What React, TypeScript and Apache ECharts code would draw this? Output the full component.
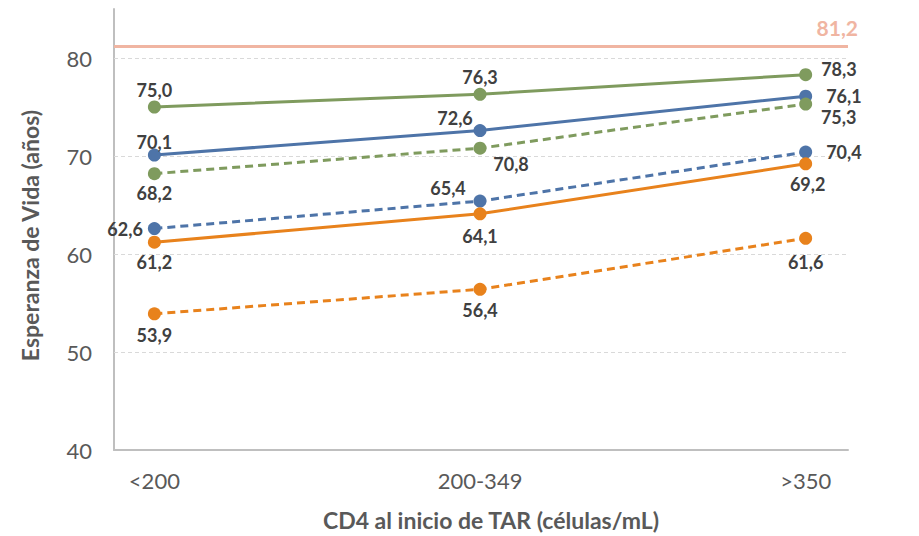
import React, { useEffect, useRef } from "react";
import * as echarts from "echarts";

const categories = ["<200", "200-349", ">350"];
const greenSolid = [75.0, 76.3, 78.3];
const blueSolid = [70.1, 72.6, 76.1];
const greenDashed = [68.2, 70.8, 75.3];
const blueDashed = [62.6, 65.4, 70.4];
const orangeSolid = [61.2, 64.1, 69.2];
const orangeDashed = [53.9, 56.4, 61.6];
const referenceValue = 81.2;
const gridValues = [50, 60, 70, 80];
const yTicks = [40, 50, 60, 70, 80];

const GREEN = "#7f9b5e";
const BLUE = "#4e74a8";
const ORANGE = "#e8821c";
const SALMON = "#f0b5a2";
const FONT = "Lato, 'Noto Sans', sans-serif";

const fmt = (v: number) => v.toFixed(1).replace(".", ",");

type Lab = { position: string; offset?: [number, number] };

function makeSeries(name: string, values: number[], color: string, dashed: boolean, labels: Lab[]) {
  return {
    name,
    type: "line",
    symbol: "circle",
    symbolSize: 13,
    z: 5,
    lineStyle: { color, width: 3, type: dashed ? [8, 5] : "solid" },
    itemStyle: { color },
    data: values.map((v, i) => ({
      value: [i, v],
      label: {
        show: true,
        position: labels[i].position,
        offset: labels[i].offset || [0, 0],
        distance: 2,
        formatter: () => fmt(v),
        fontFamily: FONT,
        fontWeight: "bold",
        fontSize: 18,
        color: "#404040",
      },
    })),
  };
}

export default function App() {
  const ref = useRef<HTMLDivElement>(null);
  useEffect(() => {
    if (!ref.current) return;
    const chart = echarts.init(ref.current, undefined, { renderer: "svg" });
    chart.setOption({
      animation: false,
      backgroundColor: "#ffffff",
      grid: { left: 114, right: 71, top: 9, bottom: 86, containLabel: false },
      xAxis: {
        type: "value",
        min: -0.124,
        max: 2.13,
        name: "CD4 al inicio de TAR (células/mL)",
        nameLocation: "middle",
        nameGap: 58,
        nameTextStyle: { fontFamily: FONT, fontWeight: "bold", fontSize: 23, color: "#595959", padding: [0, 0, 0, 20] },
        axisLine: { show: true, onZero: false, lineStyle: { color: "#bfbfbf", width: 2 } },
        axisTick: { show: false },
        splitLine: { show: false },
        axisLabel: {
          showMinLabel: false,
          showMaxLabel: false,
          margin: 19,
          fontFamily: FONT,
          fontSize: 22,
          color: "#595959",
          formatter: (v: number) => {
            const r = Math.round(v);
            return Math.abs(v - r) < 1e-6 && categories[r] !== undefined ? categories[r] : "";
          },
        },
      },
      yAxis: {
        type: "value",
        min: 40,
        max: 85,
        interval: 10,
        name: "Esperanza de Vida (años)",
        nameLocation: "middle",
        nameGap: 73,
        nameTextStyle: { fontFamily: FONT, fontWeight: "bold", fontSize: 23, color: "#595959", padding: [0, 12, 0, 0] },
        axisLine: { show: true, onZero: false, lineStyle: { color: "#bfbfbf", width: 2 } },
        axisTick: { show: false },
        splitLine: { show: false },
        axisLabel: {
          margin: 22,
          fontFamily: FONT,
          fontSize: 22,
          color: "#595959",
          formatter: (v: number) => (yTicks.indexOf(v) >= 0 ? String(v) : ""),
        },
      },
      series: [
        {
          name: "ref",
          type: "line",
          data: [],
          markLine: {
            silent: true,
            symbol: "none",
            data: [
              ...gridValues.map((g) => ({
                yAxis: g,
                lineStyle: { color: "#d9d9d9", width: 1, type: [4, 3] },
                label: { show: false },
              })),
              {
                yAxis: referenceValue,
                lineStyle: { color: SALMON, width: 3, type: "solid" },
                label: {
                  show: true,
                  position: "insideEndTop",
                  formatter: fmt(referenceValue),
                  fontFamily: FONT,
                  fontWeight: "bold",
                  fontSize: 21,
                  color: SALMON,
                  distance: [-10, 8],
                },
              },
            ],
          },
        },
        makeSeries("Verde", greenSolid, GREEN, false, [
          { position: "top" },
          { position: "top" },
          { position: "right", offset: [7, -6] },
        ]),
        makeSeries("Azul", blueSolid, BLUE, false, [
          { position: "top", offset: [0, 4] },
          { position: "top", offset: [-25, 5] },
          { position: "right", offset: [12, 0] },
        ]),
        makeSeries("Verde discontinua", greenDashed, GREEN, true, [
          { position: "bottom", offset: [0, 2] },
          { position: "bottom", offset: [31, -2] },
          { position: "bottom", offset: [33, -5] },
        ]),
        makeSeries("Azul discontinua", blueDashed, BLUE, true, [
          { position: "left", offset: [-3, 0] },
          { position: "top", offset: [-32, 4] },
          { position: "right", offset: [12, 0] },
        ]),
        makeSeries("Naranja", orangeSolid, ORANGE, false, [
          { position: "bottom", offset: [0, 2] },
          { position: "bottom", offset: [0, 5] },
          { position: "bottom", offset: [2, 3] },
        ]),
        makeSeries("Naranja discontinua", orangeDashed, ORANGE, true, [
          { position: "bottom", offset: [0, 4] },
          { position: "bottom", offset: [0, 3] },
          { position: "bottom", offset: [0, 6] },
        ]),
      ],
    });
    return () => chart.dispose();
  }, []);
  return <div ref={ref} style={{ position: "absolute", left: 0, top: 0, width: 919, height: 536 }} />;
}
